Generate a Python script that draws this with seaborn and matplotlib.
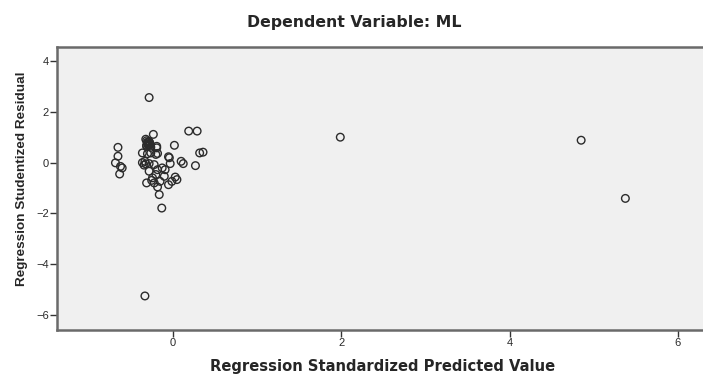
import matplotlib
matplotlib.use("Agg")
import matplotlib.pyplot as plt
import seaborn as sns
import pandas as pd

# Regression Standardized Predicted Value
pred = [
    1.99, 4.85, 5.375, -0.33, -0.28,
    -0.65, -0.65, -0.68, -0.62, -0.60, -0.63,
    -0.23, -0.31, -0.30, -0.29, -0.31, -0.27, -0.28, -0.32, -0.29, -0.26,
    -0.30, -0.29, -0.31, -0.28, -0.27,
    -0.19, -0.36, -0.30, -0.26, -0.20, -0.18,
    -0.36, -0.32, -0.28, -0.22, -0.34,
    -0.05, -0.03, 0.02, 0.10, 0.125, 0.27, 0.32, 0.36, 0.19, 0.29,
    -0.28, -0.18, -0.125, -0.09, -0.20, -0.24, -0.31, -0.22,
    -0.10, -0.15, -0.05, -0.01, 0.03, 0.05, -0.18, -0.16, -0.13,
    -0.19, -0.04, -0.33, -0.25,
]
# Regression Studentized Residual
resid = [
    1.00, 0.88, -1.41, -5.25, 2.56,
    0.60, 0.25, -0.01, -0.15, -0.21, -0.45,
    1.11, 0.86, 0.80, 0.71, 0.64, 0.75, 0.83, 0.92, 0.68, 0.60,
    0.78, 0.72, 0.68, 0.80, 0.70,
    0.64, 0.38, 0.35, 0.38, 0.32, 0.36,
    0.00, -0.05, -0.04, -0.08, -0.10,
    0.23, -0.04, 0.68, 0.05, -0.04, -0.12, 0.38, 0.41, 1.24, 1.24,
    -0.34, -0.28, -0.21, -0.28, -0.47, -0.60, -0.80, -0.80,
    -0.54, -0.74, -0.87, -0.74, -0.57, -0.67, -0.96, -1.26, -1.79,
    0.58, 0.19, 0.05, -0.70,
]

title = "Dependent Variable: ML"
xlabel = "Regression Standardized Predicted Value"
ylabel = "Regression Studentized Residual"
xticks = [0, 2, 4, 6]
yticks = [4, 2, 0, -2, -4, -6]

df = pd.DataFrame({"pred": pred, "resid": resid})

sns.set_style("white")
plt.rcParams["font.family"] = ["Liberation Sans", "DejaVu Sans"]

fig = plt.figure(figsize=(7.03, 3.74), dpi=100)
ax_w = (710 - 57) / 703
ax = fig.add_axes([57 / 703, 1 - 330 / 374, ax_w, (330 - 47) / 374])
ax.set_facecolor("#F0F0F0")

sns.scatterplot(data=df, x="pred", y="resid", ax=ax, marker="o", s=30,
                facecolors="none", edgecolor="#2b2b2b", linewidth=1.0)

ax.set_xlim(-1.374, 6.38)
ax.set_ylim(-6.59, 4.55)
ax.set_xticks(xticks)
ax.set_yticks(yticks)
ax.tick_params(axis="both", direction="out", length=5, width=1, color="#333333",
               labelsize=8, labelcolor="#2a2a2a", pad=1,
               bottom=True, left=True)
for side in ["left", "bottom", "top", "right"]:
    ax.spines[side].set_color("#6a6a6a")
    ax.spines[side].set_linewidth(1.8)

ax.set_xlabel(xlabel, fontsize=10.6, fontweight="bold", family="DejaVu Sans")
ax.xaxis.label.set_va("center")
ax.xaxis.set_label_coords(0.4985, -36.5 / 283)

ax.set_ylabel(ylabel, fontsize=9.7, fontweight="bold")
ax.yaxis.label.set_va("center")
ax.yaxis.set_label_coords((21.7 - 57) / 653, (330 - 179) / 283)

fig.text(354 / 703, 1 - 23 / 374, title, ha="center", va="center",
         fontsize=11.3, fontweight="bold", family="DejaVu Sans")

fig.savefig("out.png", dpi=100, facecolor="white")
